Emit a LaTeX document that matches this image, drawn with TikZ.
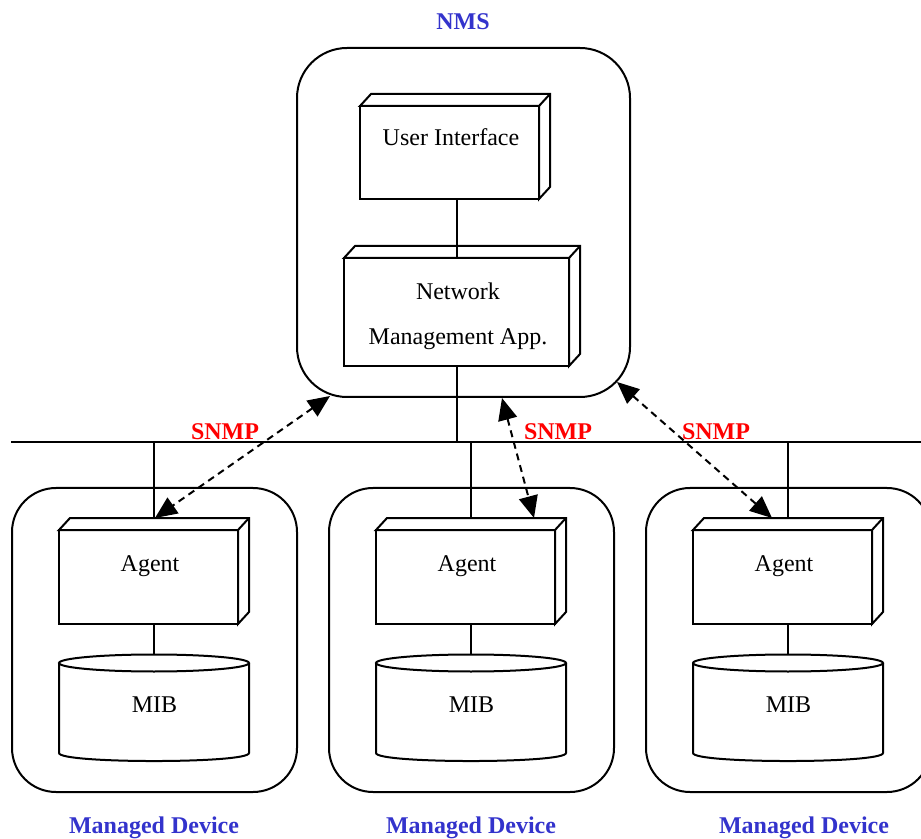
\documentclass[tikz,border=0pt]{standalone}
\usepackage{fontspec}
\setmainfont{Liberation Serif}
\usetikzlibrary{arrows.meta}
\definecolor{lblblue}{RGB}{51,51,204}
\newcommand\threed[1]{%
  \draw[fill=white] (#1.north west) -- ([shift={(11,-12)}]#1.north west)
     -- ([shift={(11,-12)}]#1.north east) -- ([shift={(11,-12)}]#1.south east)
     -- (#1.south east) -- (#1.north east) -- cycle;
  \draw (#1.north east) -- ([shift={(11,-12)}]#1.north east);}
\tikzset{
  frame/.style={draw, fill=white, inner sep=0pt, outer sep=0pt},
  face/.style={draw, fill=white, inner sep=0pt, outer sep=0pt},
  txt/.style={anchor=base, inner sep=0pt, font=\fontsize{12pt}{14pt}\selectfont},
  title/.style={anchor=base, inner sep=0pt, font=\fontsize{12pt}{14pt}\selectfont\bfseries, text=lblblue},
  proto/.style={anchor=base, inner sep=0pt, font=\fontsize{12pt}{14pt}\selectfont\bfseries, text=red},
  snmp/.style={dash pattern=on 3.5pt off 2.5pt, {Triangle[length=11pt,width=9.5pt]}-{Triangle[length=11pt,width=9.5pt]}}
}
\begin{document}
\begin{tikzpicture}[x=0.5pt,y=-0.5pt,line width=1pt]
\useasboundingbox (0,0) rectangle (921,839);
\clip (0,0) rectangle (921,839);

% NMS
\node[frame, rounded corners=25pt, minimum width=166.5pt, minimum height=174.5pt] (nms) at (463.5,222.5) {};
\node[title] (nmst) at (463,30) {NMS};
\node[face, minimum width=89.5pt, minimum height=46.5pt] (ui) at (449.5,152.5) {};
\threed{ui}
\node[txt] (uit) at (451,146) {User Interface};
\node[face, minimum width=112.5pt, minimum height=54pt] (nma) at (456.5,312) {};
\threed{nma}
\node[txt] (nmat1) at (458,300) {Network};
\node[txt] (nmat2) at (458,345) {Management App.};
\draw (ui.south -| nma.north) -- (nma.north);

% bus
\coordinate (busL) at (11,442);
\coordinate (busR) at (921,442);
\draw (busL) -- (busR);
\draw (nma.south) -- (nma.south |- busL);

% devices
\foreach \i/\o/\lx in {1/0/154, 2/317/471, 3/634/804} {
  \node[frame, rounded corners=22pt, minimum width=142.5pt, minimum height=152pt] (dev\i) at (154.5+\o,640) {};
  \coordinate (drop\i) at (154+\o,518);
  \draw (drop\i |- busL) -- (drop\i);
  \node[face, minimum width=89.5pt, minimum height=47pt] (ag\i) at (148.5+\o,577) {};
  \threed{ag\i}
  \node[txt] (agt\i) at (150+\o,571) {Agent};
  \node[inner sep=0pt, outer sep=0pt, minimum width=95pt, minimum height=45pt] (mib\i) at (154+\o,708) {};
  \draw (ag\i.south -| mib\i.north) -- (mib\i.north);
  \filldraw[fill=white] (mib\i.north west) -- (mib\i.south west)
     .. controls +(0,10.7) and +(0,10.7) .. (mib\i.south east) -- (mib\i.north east);
  \draw[fill=white] (mib\i.north) ellipse [x radius=95, y radius=8.5];
  \node[txt] (mibt\i) at (154.5+\o,712) {MIB};
  \node[title] (mdt\i) at (\lx,833) {Managed Device};
}

% SNMP arrows
\coordinate (a1n) at (330,396);
\coordinate (a1d) at (155,518);
\coordinate (a2n) at (502,398);
\coordinate (a2d) at (534,518);
\coordinate (a3n) at (617,382);
\coordinate (a3d) at (772,518);
\draw[snmp] (a1n) -- (a1d);
\draw[snmp] (a2n) -- (a2d);
\draw[snmp] (a3n) -- (a3d);
\node[proto] (s1) at (225,440) {SNMP};
\node[proto] (s2) at (558,440) {SNMP};
\node[proto] (s3) at (716,440) {SNMP};
\end{tikzpicture}
\end{document}
